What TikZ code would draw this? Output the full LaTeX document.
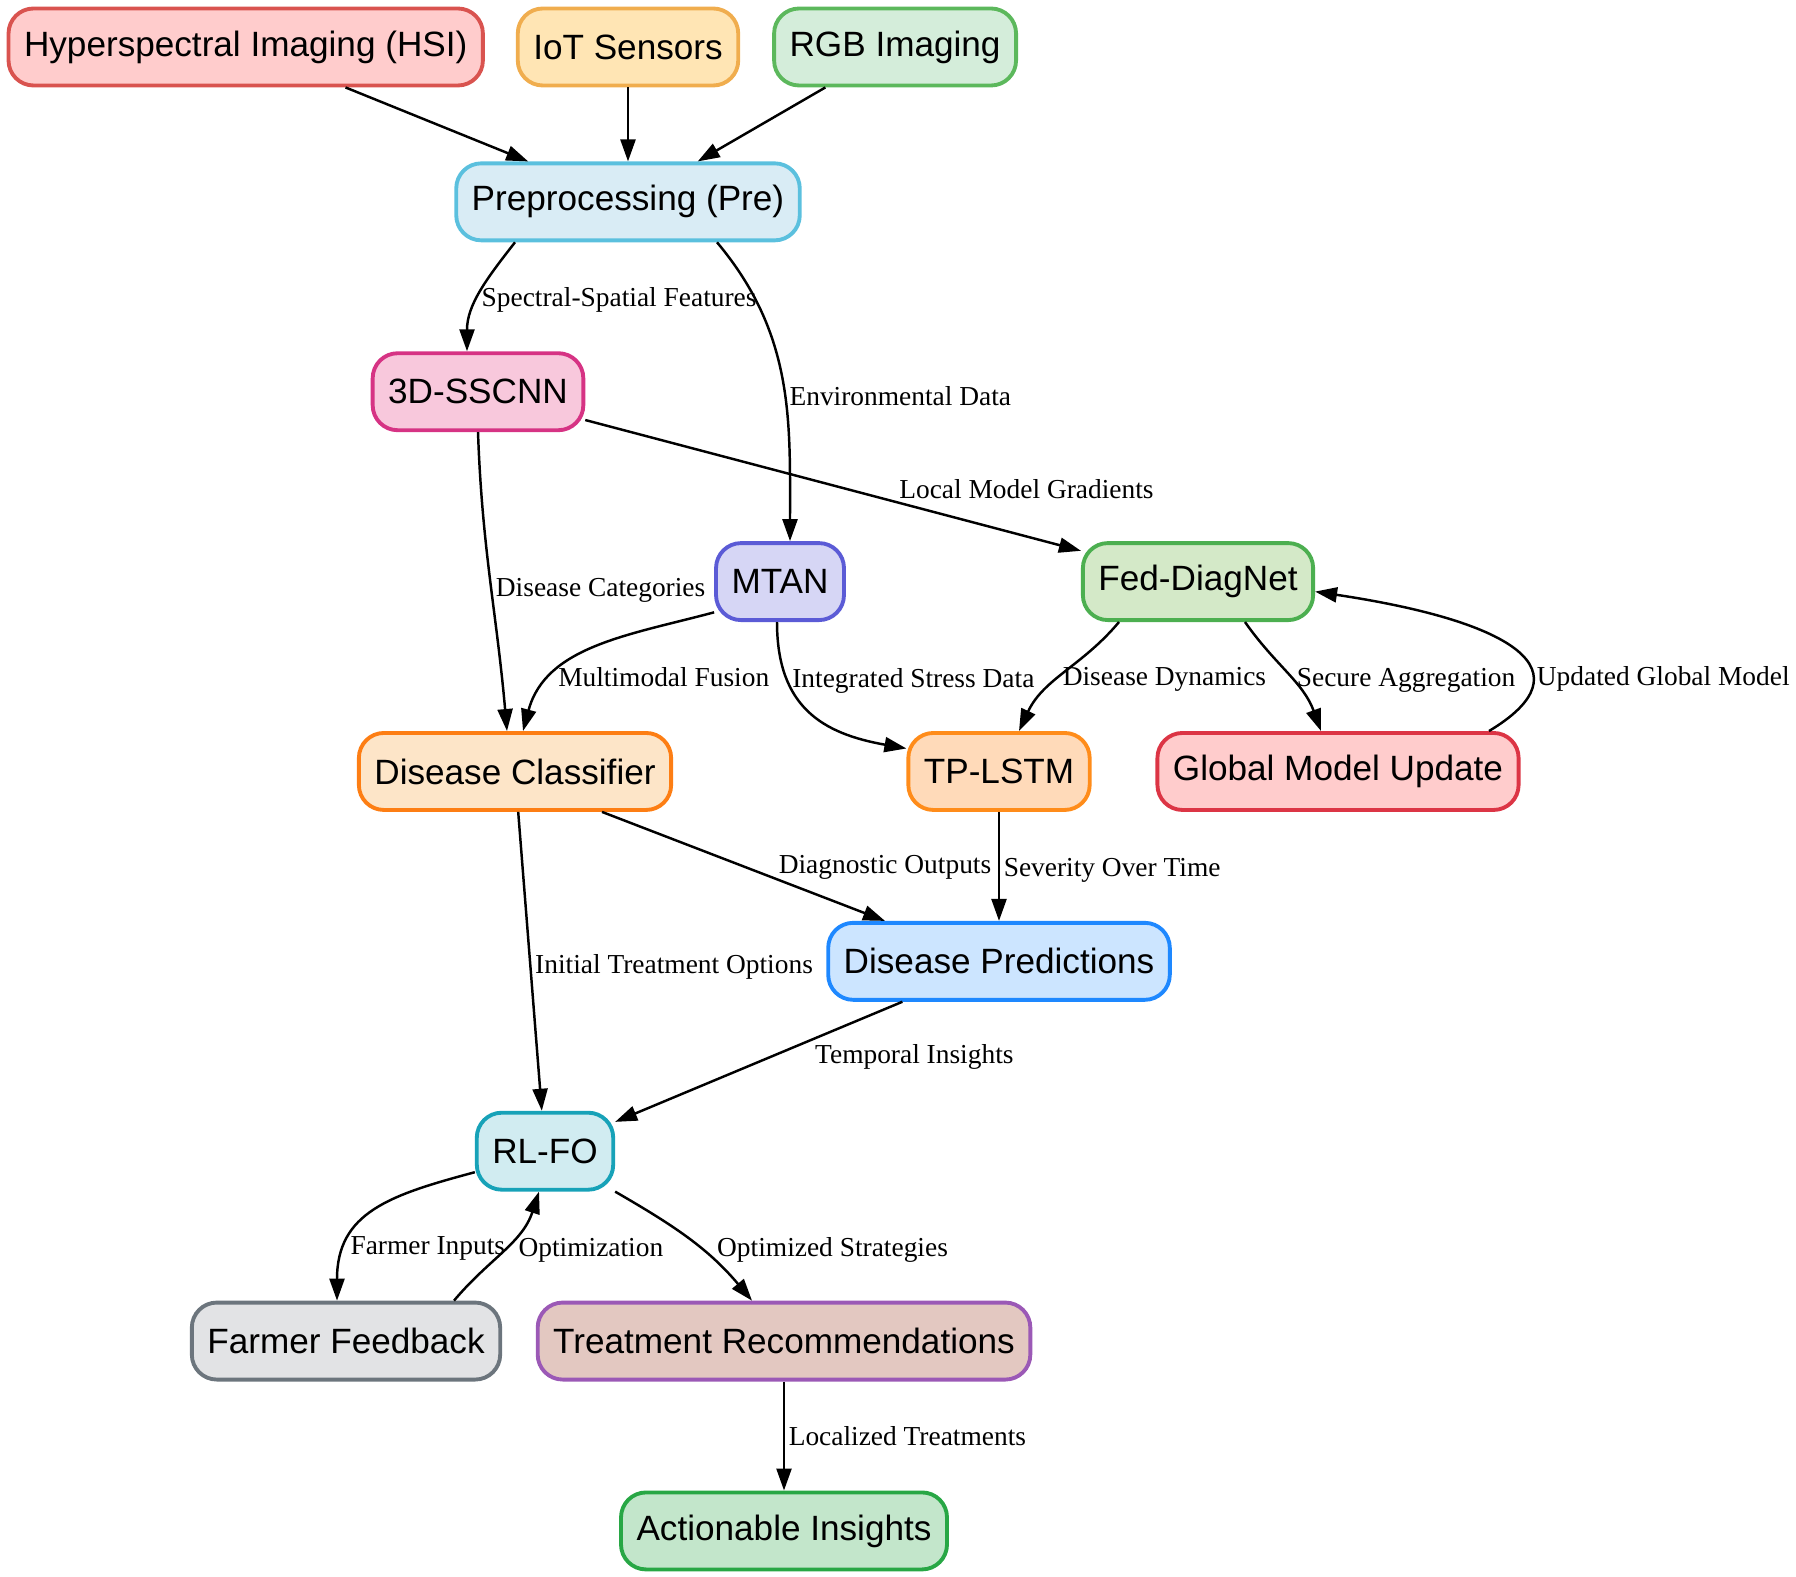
\documentclass[tikz,border=0pt]{standalone}
\usepackage{fontspec}
\setmainfont{Liberation Serif}
\setsansfont{Liberation Sans}
\usepackage{tikz}
\usetikzlibrary{arrows.meta, positioning}
\definecolor{redfill}{HTML}{FFCCCC}
\definecolor{redline}{HTML}{D9534F}
\definecolor{amberfill}{HTML}{FFE5B4}
\definecolor{amberline}{HTML}{F0AD4E}
\definecolor{greenfill}{HTML}{D4EDDA}
\definecolor{greenline}{HTML}{5CB85C}
\definecolor{skyfill}{HTML}{D9ECF5}
\definecolor{skyline}{HTML}{5BC0DE}
\definecolor{pinkfill}{HTML}{F8C8DC}
\definecolor{pinkline}{HTML}{D63384}
\definecolor{violetfill}{HTML}{D6D6F5}
\definecolor{violetline}{HTML}{5B5BD6}
\definecolor{leaffill}{HTML}{D4E9C8}
\definecolor{leafline}{HTML}{4CAF50}
\definecolor{peachfill}{HTML}{FDE5C8}
\definecolor{peachline}{HTML}{FD7E14}
\definecolor{apricotfill}{HTML}{FFDAB9}
\definecolor{apricotline}{HTML}{FF8C1A}
\definecolor{crimsonfill}{HTML}{FFCCCC}
\definecolor{crimsonline}{HTML}{DC3545}
\definecolor{bluefill}{HTML}{CCE5FF}
\definecolor{blueline}{HTML}{1E88FF}
\definecolor{tealfill}{HTML}{D1ECF1}
\definecolor{tealline}{HTML}{17A2B8}
\definecolor{greyfill}{HTML}{E2E3E5}
\definecolor{greyline}{HTML}{6C757D}
\definecolor{rosyfill}{HTML}{E3C8C1}
\definecolor{rosyline}{HTML}{9B59B6}
\definecolor{mintfill}{HTML}{C3E6CB}
\definecolor{mintline}{HTML}{28A745}

\begin{document}
\begin{tikzpicture}[
    node distance=1.09cm,
    box/.style={rectangle, draw, rounded corners=0.25cm, line width=1.1pt, minimum height=0.77cm, inner xsep=0.155cm, align=center, font=\sffamily\fontsize{10}{12}\selectfont},
    arrow/.style={-{Triangle[length=0.22cm, width=0.15cm]}, line width=0.7pt},
    lbl/.style={font=\fontsize{7.8}{9}\selectfont, inner sep=1pt}
]
    \useasboundingbox (0,0) rectangle (17.96,-15.77);

    % Nodes
    \node[box, fill=amberfill, draw=amberline] (iot) at (6.28,-0.47) {IoT Sensors};
    \node[box, fill=redfill, draw=redline, left=0.31cm of iot] (hsi) {Hyperspectral Imaging (HSI)};
    \node[box, fill=greenfill, draw=greenline, right=0.32cm of iot] (rgb) {RGB Imaging};
    \node[box, fill=skyfill, draw=skyline, below=0.74cm of iot] (pre) {Preprocessing (Pre)};
    \node[box, fill=pinkfill, draw=pinkline, below=of pre, xshift=-1.5cm] (sscnn) {3D-SSCNN};
    \node[box, fill=violetfill, draw=violetline, below=of sscnn, xshift=3.02cm] (mtan) {MTAN};
    \node[box, fill=leaffill, draw=leafline, below=of sscnn, xshift=7.2cm] (fed) {Fed-DiagNet};
    \node[box, fill=peachfill, draw=peachline, below=of mtan, xshift=-2.65cm] (classifier) {Disease Classifier};
    \node[box, fill=apricotfill, draw=apricotline, below=of mtan, xshift=2.19cm] (tplstm) {TP-LSTM};
    \node[box, fill=crimsonfill, draw=crimsonline, below=of fed, xshift=1.4cm] (globalupd) {Global Model Update};
    \node[box, fill=bluefill, draw=blueline, below=of tplstm] (predictions) {Disease Predictions};
    \node[box, fill=tealfill, draw=tealline, below=of predictions, xshift=-4.54cm] (rlfo) {RL-FO};
    \node[box, fill=greyfill, draw=greyline, below=of rlfo, xshift=-1.99cm] (feedback) {Farmer Feedback};
    \node[box, fill=rosyfill, draw=rosyline, below=of rlfo, xshift=2.39cm] (treatment) {Treatment Recommendations};
    \node[box, fill=mintfill, draw=mintline, below=of treatment] (insights) {Actionable Insights};

    % Inputs
    \draw[arrow] (hsi) -- (pre);
    \draw[arrow] (iot) -- (pre);
    \draw[arrow] (rgb) -- (pre);

    % Feature extraction
    \draw[arrow] ([xshift=-1.13cm]pre.south) to[out=-128, in=90] node[lbl, pos=0.57, right] {Spectral-Spatial Features} ([xshift=-0.11cm]sscnn.north);
    \draw[arrow] ([xshift=0.89cm]pre.south) to[out=-50, in=90] node[lbl, pos=0.55, right] {Environmental Data} ([xshift=0.1cm]mtan.north);
    \draw[arrow] (sscnn) -- node[lbl, pos=0.89, above=0.33cm] {Local Model Gradients} (fed);
    \draw[arrow] (sscnn.south) to[out=-88, in=95] node[lbl, pos=0.53, right] {Disease Categories} ([xshift=-0.08cm]classifier.north);
    \draw[arrow] (mtan.205) to[out=195, in=75] node[lbl, pos=0.73, right] {Multimodal Fusion} ([xshift=0.08cm]classifier.north);
    \draw[arrow] ([xshift=-0.03cm]mtan.south) to[out=-90, in=170, looseness=1.2] node[lbl, pos=0.28, right] {Integrated Stress Data} ([yshift=0.23cm]tplstm.west);
    \draw[arrow] ([xshift=-0.79cm]fed.south) to[out=-130, in=65] node[lbl, pos=0.56, right] {Disease Dynamics} ([xshift=0.2cm]tplstm.north);
    \draw[arrow] ([xshift=0.47cm]fed.south) to[out=-55, in=110] node[lbl, pos=0.56, right] {Secure Aggregation} ([xshift=-0.17cm]globalupd.north);

    % Federated loop
    \draw[arrow] ([xshift=1.51cm]globalupd.north) .. controls +(1.0,0.6) and +(2.0,-0.3) .. node[lbl, pos=0.35, right, yshift=-0.07cm] {Updated Global Model} ([yshift=-0.1cm]fed.east);

    % Predictions
    \draw[arrow] ([xshift=0.87cm]classifier.south) -- node[lbl, pos=1, above=0.37cm] {Diagnostic Outputs} ([xshift=-1.14cm]predictions.north);
    \draw[arrow] (tplstm) -- node[lbl, pos=0.54, right] {Severity Over Time} (predictions);
    \draw[arrow] (classifier) -- node[lbl, pos=0.52, right] {Initial Treatment Options} (rlfo);
    \draw[arrow] (predictions) -- node[lbl, pos=0.32, anchor=north west] {Temporal Insights} (rlfo);

    % Feedback loop
    \draw[arrow] ([yshift=-0.21cm]rlfo.west) to[out=195, in=90, looseness=1.2] node[lbl, pos=0.76, right] {Farmer Inputs} ([xshift=-0.09cm]feedback.north);
    \draw[arrow] ([xshift=1.08cm]feedback.north) to[out=50, in=-108] node[lbl, right=3pt] {Optimization} ([xshift=-0.06cm]rlfo.south);
    \draw[arrow] (rlfo.south east) to[out=-30, in=130] node[lbl, pos=0.6, right=3pt] {Optimized Strategies} ([xshift=-0.32cm]treatment.north);
    \draw[arrow] (treatment) -- node[lbl, right] {Localized Treatments} (insights);
\end{tikzpicture}
\end{document}
